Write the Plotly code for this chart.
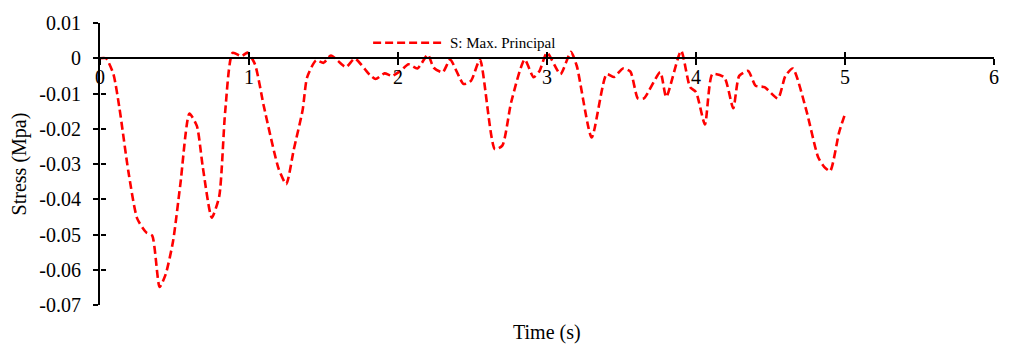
import plotly.graph_objects as go

# Time history of the maximum principal stress
time_s = [
    0.00, 0.04, 0.09, 0.13, 0.19, 0.25, 0.31, 0.35, 0.40, 0.44,
    0.49, 0.54, 0.60, 0.65, 0.69, 0.75, 0.80, 0.84, 0.89, 0.95,
    0.99, 1.04, 1.10, 1.20, 1.25, 1.30, 1.36, 1.39, 1.45, 1.50,
    1.55, 1.65, 1.71, 1.81, 1.85, 1.91, 1.96, 2.02, 2.07, 2.13,
    2.20, 2.24, 2.30, 2.35, 2.44, 2.49, 2.55, 2.65, 2.70, 2.76,
    2.85, 2.91, 2.95, 3.00, 3.09, 3.16, 3.20, 3.30, 3.40, 3.45,
    3.51, 3.56, 3.61, 3.65, 3.76, 3.80, 3.90, 3.96, 4.00, 4.06,
    4.11, 4.19, 4.25, 4.29, 4.35, 4.40, 4.46, 4.55, 4.60, 4.65,
    4.74, 4.82, 4.86, 4.90, 4.96, 5.00,
]
stress_mpa = [
    0.0000, 0.0000, -0.0045, -0.0140, -0.0320, -0.0455, -0.0494, -0.0503, -0.0649, -0.0614,
    -0.0520, -0.0355, -0.0157, -0.0192, -0.0309, -0.0452, -0.0392, -0.0152, 0.0015, 0.0006,
    0.0016, -0.0017, -0.0137, -0.0315, -0.0357, -0.0260, -0.0147, -0.0054, -0.0006, -0.0013,
    0.0008, -0.0025, -0.0001, -0.0047, -0.0059, -0.0043, -0.0050, -0.0035, -0.0017, -0.0029,
    0.0010, -0.0027, -0.0040, -0.0004, -0.0073, -0.0064, -0.0004, -0.0258, -0.0248, -0.0124,
    -0.0004, -0.0054, -0.0036, 0.0016, -0.0045, 0.0018, -0.0022, -0.0225, -0.0045, -0.0053,
    -0.0029, -0.0038, -0.0114, -0.0114, -0.0040, -0.0110, 0.0021, -0.0082, -0.0096, -0.0188,
    -0.0045, -0.0054, -0.0142, -0.0050, -0.0036, -0.0078, -0.0082, -0.0114, -0.0050, -0.0029,
    -0.0147, -0.0281, -0.0308, -0.0320, -0.0211, -0.0158,
]
series_name = "S: Max. Principal"

x_ticks = [0, 1, 2, 3, 4, 5, 6]
y_ticks = [0.01, 0, -0.01, -0.02, -0.03, -0.04, -0.05, -0.06, -0.07]
y_tick_text = ["0.01", "0", "-0.01", "-0.02", "-0.03", "-0.04", "-0.05", "-0.06", "-0.07"]

X_RANGE = [0, 6]
Y_RANGE = [-0.07, 0.01]
# paper position of the y = 0 line, where the time axis crosses
x_axis_pos = (0 - Y_RANGE[0]) / (Y_RANGE[1] - Y_RANGE[0])

FONT = "Liberation Serif"
RED = "#ff0000"
DASH = "8px,4px"

fig = go.Figure()
fig.add_trace(go.Scatter(
    x=time_s, y=stress_mpa, mode="lines", name=series_name, showlegend=False,
    line=dict(color=RED, width=2.6, dash=DASH, shape="spline", smoothing=0.6),
))
# empty traces so the overlay axes (two halves of the cross ticks) render
fig.add_trace(go.Scatter(x=[], y=[], xaxis="x2", yaxis="y2", showlegend=False, hoverinfo="skip"))
fig.add_trace(go.Scatter(x=[], y=[], xaxis="x3", yaxis="y", showlegend=False, hoverinfo="skip"))

axis_common = dict(showgrid=False, zeroline=False, linecolor="black", linewidth=2,
                   tickcolor="black", tickwidth=2)
x_tick_axis = dict(**axis_common, overlaying="x", matches="x", range=X_RANGE, tickvals=x_ticks,
                   ticklen=6, showticklabels=False, showline=False,
                   anchor="free", position=x_axis_pos)

fig.update_layout(
    width=1011, height=351,
    margin=dict(l=100, r=14, t=16, b=46),
    paper_bgcolor="white", plot_bgcolor="white",
    font=dict(family=FONT, size=20, color="black"),
    xaxis=dict(**axis_common, range=X_RANGE, tickvals=x_ticks, ticks="",
               anchor="free", position=x_axis_pos, showline=True,
               tickfont=dict(size=20), ticklabelstandoff=1),
    yaxis=dict(**axis_common, range=Y_RANGE, tickvals=y_ticks, ticktext=y_tick_text,
               ticks="outside", ticklen=5, showline=True, domain=[0, 1],
               tickfont=dict(size=20), ticklabelstandoff=8,
               title=dict(text="Stress (Mpa)", font=dict(size=20), standoff=7)),
    xaxis2=dict(**x_tick_axis, ticks="inside"),
    xaxis3=dict(**x_tick_axis, ticks="outside"),
    yaxis2=dict(**axis_common, overlaying="y", matches="y", range=Y_RANGE, tickvals=y_ticks,
                ticks="inside", ticklen=5, showticklabels=False, showline=False,
                anchor="free", position=0),
    showlegend=False,
)

# time-axis title along the bottom of the chart
fig.add_annotation(text="Time (s)", xref="paper", yref="paper", x=0.5, y=-0.097,
                   xanchor="center", yanchor="middle", showarrow=False,
                   font=dict(size=20, family=FONT))

# legend entry: dashed sample line and series name
legend_y = 0.930
fig.add_shape(type="line", xref="paper", yref="paper", x0=0.3055, x1=0.3835,
              y0=legend_y, y1=legend_y, line=dict(color=RED, width=2.6, dash=DASH))
fig.add_annotation(text=series_name, xref="paper", yref="paper", x=0.389, y=legend_y,
                   xanchor="left", yanchor="middle", showarrow=False,
                   font=dict(size=15, family=FONT))

fig.write_html("out.html")
